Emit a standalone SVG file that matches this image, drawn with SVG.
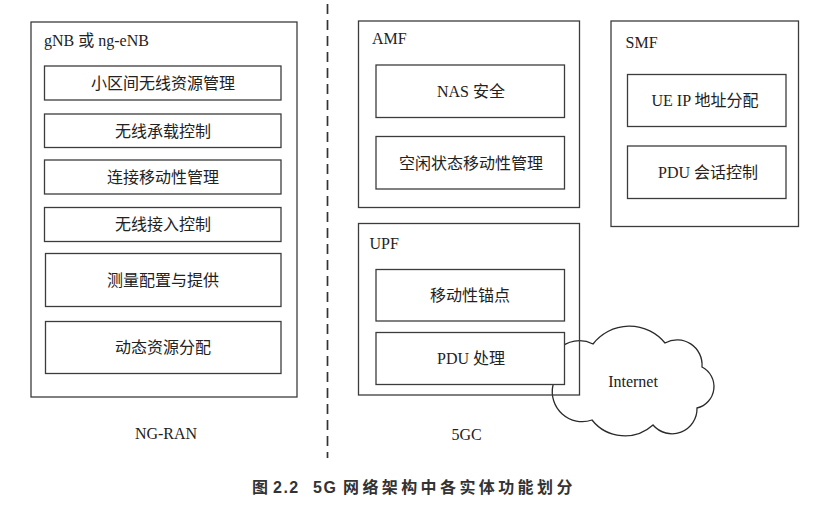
<svg xmlns="http://www.w3.org/2000/svg" width="830" height="506" viewBox="0 0 830 506">
<style>
.frame{fill:none;stroke:#3c3c3c;stroke-width:1.3}
.box{fill:#fff;stroke:#3c3c3c;stroke-width:1.3}
.cloud{fill:#fff;stroke:#2a2a2a;stroke-width:1.3}
.t{font-family:"Liberation Serif","Noto Sans CJK SC",serif;font-size:16px;fill:#222}
.c{text-anchor:middle;dominant-baseline:central}
.m{text-anchor:middle}
.cap{font-family:"Liberation Sans","Noto Sans CJK SC",sans-serif;font-size:16px;font-weight:bold;fill:#333}
.sep{stroke:#333;stroke-width:1.7;stroke-dasharray:10 6;fill:none}
</style>
<rect width="830" height="506" fill="#fff"/>

<g id="separator">
<line class="sep" x1="327.5" y1="4" x2="327.5" y2="458"/>
</g>

<g id="ngran">
<rect class="frame" x="31" y="22" width="266" height="375"/>
<text class="t" x="44" y="46">gNB 或 ng-eNB</text>
<g id="n1"><rect class="box" x="44.5" y="66" width="236.5" height="34"/><text class="t c" x="163" y="83">小区间无线资源管理</text></g>
<g id="n2"><rect class="box" x="44.5" y="114" width="236.5" height="33.5"/><text class="t c" x="163" y="131">无线承载控制</text></g>
<g id="n3"><rect class="box" x="44.5" y="160" width="236.5" height="34"/><text class="t c" x="163" y="177">连接移动性管理</text></g>
<g id="n4"><rect class="box" x="44.5" y="207.5" width="236.5" height="34"/><text class="t c" x="163" y="224.5">无线接入控制</text></g>
<g id="n5"><rect class="box" x="45.5" y="253.5" width="235.5" height="53"/><text class="t c" x="163" y="280">测量配置与提供</text></g>
<g id="n6"><rect class="box" x="45.5" y="321.5" width="235.5" height="52"/><text class="t c" x="163" y="347.5">动态资源分配</text></g>
<text class="t m" x="166" y="439">NG-RAN</text>
</g>

<g id="amf">
<rect class="frame" x="358.5" y="21" width="221" height="186.5"/>
<text class="t" x="372" y="43.5">AMF</text>
<g id="a1"><rect class="box" x="376" y="65" width="188.5" height="52.5"/><text class="t c" x="471" y="91.5">NAS 安全</text></g>
<g id="a2"><rect class="box" x="376" y="136.5" width="188.5" height="52.5"/><text class="t c" x="471" y="163">空闲状态移动性管理</text></g>
</g>

<g id="smf">
<rect class="frame" x="611" y="21" width="187.5" height="205.5"/>
<text class="t" x="625.5" y="47.5">SMF</text>
<g id="s1"><rect class="box" x="627.5" y="74.5" width="158.5" height="52"/><text class="t c" x="705" y="100.5">UE IP 地址分配</text></g>
<g id="s2"><rect class="box" x="627.5" y="146" width="158.5" height="52.5"/><text class="t c" x="708" y="172">PDU 会话控制</text></g>
</g>

<g id="internet">
<path class="cloud" d="M553,385 A30,30 0 0 1 593,344 A46,46 0 0 1 665,343 A25,25 0 0 1 702,367 A22,22 0 0 1 697,408 A25,25 0 0 1 653,425 A42,42 0 0 1 592,420 A30,30 0 0 1 553,385 Z"/>
<text class="t m" x="633" y="386.5">Internet</text>
</g>

<g id="upf">
<rect class="frame" x="358.5" y="223.5" width="221" height="171.5"/>
<text class="t" x="369.5" y="248.5">UPF</text>
<g id="u1"><rect class="box" x="376" y="269.5" width="188.5" height="51.5"/><text class="t c" x="470" y="295">移动性锚点</text></g>
<g id="u2"><rect class="box" x="376" y="332.5" width="188.5" height="52"/><text class="t c" x="471" y="358">PDU 处理</text></g>
<text class="t m" x="466.5" y="439.5">5GC</text>
</g>

<g id="caption">
<text class="cap" x="252" y="493">图</text>
<text class="cap" x="273" y="493" letter-spacing="1.5">2.2</text>
<text class="cap" x="313" y="493" letter-spacing="1.5">5G</text>
<text class="cap" x="343" y="493" letter-spacing="3.4">网络架构中各实体功能划分</text>
</g>
</svg>
